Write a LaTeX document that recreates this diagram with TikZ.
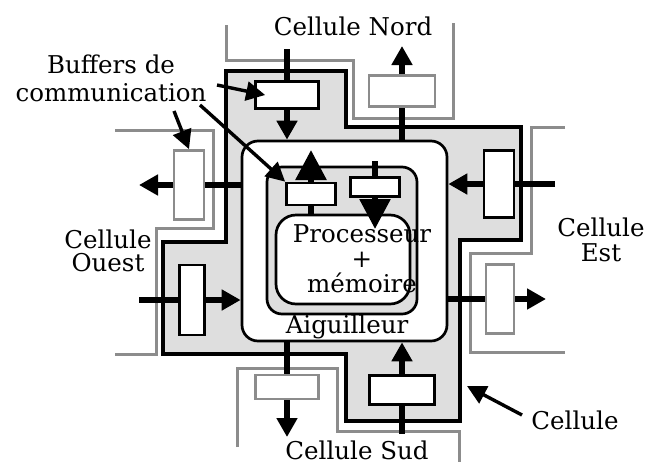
\documentclass[tikz,border=0pt]{standalone}
\usepackage{fontspec}
\setmainfont{DejaVu Serif}
\usetikzlibrary{arrows.meta,positioning,calc}
\definecolor{cellfill}{RGB}{222,222,222}
\definecolor{nbgray}{RGB}{140,140,140}

\begin{document}
\begin{tikzpicture}[x=1pt, y=-1pt, font=\fontsize{24.5}{25}\selectfont]
        \tikzset{buffer/.style={rectangle, draw, line width=2.7pt, fill=white, inner sep=0pt}, farbuffer/.style={buffer, draw=nbgray}, box/.style={rectangle, draw, rounded corners=16pt, line width=2.7pt, inner sep=0pt}, neighbour/.style={draw=nbgray, line width=3pt}, link/.style={line width=5.8pt}, flow/.style={link, -{Triangle[length=19pt, width=20pt]}}, bigflow/.style={link, -{Triangle[length=30pt, width=30pt]}}, pointer/.style={line width=3.4pt, -{Triangle[length=19pt, width=19pt]}}, txt/.style={inner sep=0pt, align=center}}
        \useasboundingbox (0,0) rectangle (650,464);
        % cellules voisines
        \draw[neighbour] (226,25) -- (226,60) -- (353,60) -- (353,118) -- (453,118) -- (453,23);
        \draw[neighbour] (565,127) -- (531,127) -- (531,253) -- (470,253) -- (470,352) -- (565,352);
        \draw[neighbour] (115,130) -- (213,130) -- (213,228) -- (156,228) -- (156,354) -- (115,354);
        \draw[neighbour] (237,447) -- (237,368) -- (337,368) -- (337,431) -- (459,431) -- (459,462);
        % la cellule
        \draw[fill=cellfill, line width=3.2pt] (226,71) -- (346,71) -- (346,127) -- (521,127) -- (521,240) -- (460,240) -- (460,421) -- (346,421) -- (346,354) -- (163,354) -- (163,242) -- (226,242) -- cycle;
        \node[box, fill=white, minimum width=205pt, minimum height=200pt] (aig) at (344.5,241) {};
        \node[box, fill=cellfill, rounded corners=15pt, minimum width=150pt, minimum height=147pt] (iface) at (342,240.5) {};
        \node[box, fill=white, rounded corners=20pt, minimum width=134pt, minimum height=89pt] (proc) at (343,259.5) {};
        % buffers
        \node[buffer, minimum width=63pt, minimum height=27pt] (bufNin) at (287,95) {};
        \node[farbuffer, minimum width=66pt, minimum height=31pt] (bufNout) at (402,91) {};
        \node[buffer, minimum width=30pt, minimum height=67pt] (bufEin) at (499,184) {};
        \node[farbuffer, minimum width=28pt, minimum height=69pt] (bufEout) at (500,299) {};
        \node[farbuffer, minimum width=30pt, minimum height=69pt] (bufOout) at (189,185) {};
        \node[buffer, minimum width=25pt, minimum height=70pt] (bufOin) at (192,300) {};
        \node[farbuffer, minimum width=63pt, minimum height=24pt] (bufSout) at (287,387) {};
        \node[buffer, minimum width=65pt, minimum height=29pt] (bufSin) at (402,390) {};
        \node[buffer, minimum width=49pt, minimum height=22pt] (bufPout) at (311,194) {};
        \node[buffer, minimum width=49pt, minimum height=19pt] (bufPin) at (375,187) {};
        % extremites libres
        \coordinate (inN) at (287,49);
        \coordinate (outN) at (402,46);
        \coordinate (inE) at (555,184);
        \coordinate (outE) at (546,299);
        \coordinate (outO) at (139,185);
        \coordinate (inO) at (139,300);
        \coordinate (outS) at (287,437);
        \coordinate (inS) at (402,434);
        \coordinate (upP) at (311,150);
        \coordinate (topP) at (375,161);
        \coordinate (downP) at (375,229);
        \draw[link] (inN) -- (bufNin.north);
        \draw[flow] (bufNin.south) -- (bufNin |- aig.north);
        \draw[link] (bufNout |- aig.north) -- (bufNout.south);
        \draw[flow] (bufNout.north) -- (outN);
        \draw[link] (inE) -- (bufEin.east);
        \draw[flow] (bufEin.west) -- (aig.east |- bufEin);
        \draw[link] (aig.east |- bufEout) -- (bufEout.west);
        \draw[flow] (bufEout.east) -- (outE);
        \draw[link] (aig.west |- bufOout) -- (bufOout.east);
        \draw[flow] (bufOout.west) -- (outO);
        \draw[link] (inO) -- (bufOin.west);
        \draw[flow] (bufOin.east) -- (aig.west |- bufOin);
        \draw[link] (aig.south -| bufSout) -- (bufSout.north);
        \draw[flow] (bufSout.south) -- (outS);
        \draw[link] (inS) -- (bufSin.south);
        \draw[flow] (bufSin.north) -- (aig.south -| bufSin);
        \draw[bigflow] (bufPout.north) -- (upP);
        \draw[link] (bufPout.south) -- (bufPout.south |- proc.north);
        \draw[link] (bufPin.north) -- (topP);
        \draw[bigflow] (bufPin.south) -- (downP);
        % textes
        \node[txt, anchor=base] (lblNord) at (353,35) {Cellule Nord};
        \node[txt, anchor=base] (lblSud) at (357,459) {Cellule Sud};
        \node[txt] (lblBuf) at (111,78) {Buffers de\\[3pt]communication};
        \node[txt] (lblOuest) at (108,251) {Cellule\\[-1.5pt]Ouest};
        \node[txt] (lblEst) at (601,240) {Cellule\\Est};
        \node[txt, anchor=base] (lblCell) at (575,429) {Cellule};
        \node[txt, anchor=base] (lblAig) at (347,333) {Aiguilleur};
        \node[txt] (lblProc) at (362,259) {Processeur\\+\\mémoire};
        % fleches des legendes
        \coordinate (ptA) at (217,85);
        \coordinate (ptB) at (200,105);
        \coordinate (ptC) at (174,111);
        \coordinate (ptCell) at (522,415);
        \coordinate (cellEdge) at (467,386);
        \draw[pointer] (ptA) -- ($(bufNin.west)+(11,0)$);
        \draw[pointer] (ptB) -- (bufPout.north west);
        \draw[pointer] (ptC) -- (bufOout.north);
        \draw[pointer] (ptCell) -- (cellEdge);
    \end{tikzpicture}
\end{document}
